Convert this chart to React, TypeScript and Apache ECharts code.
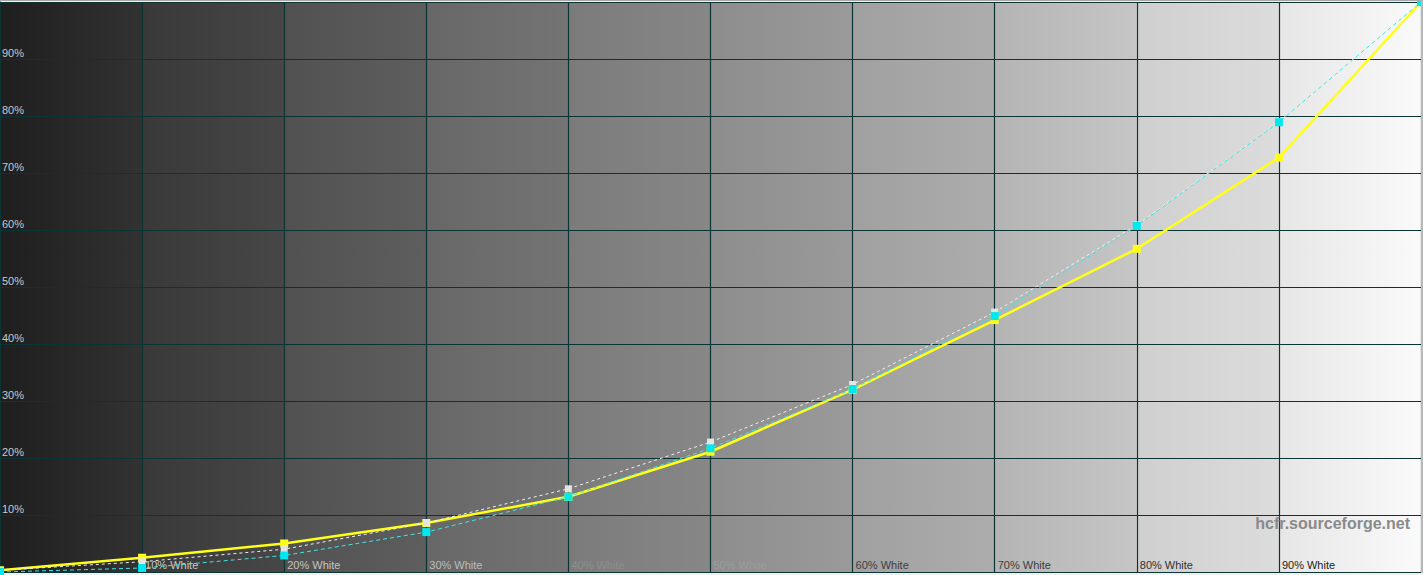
import React, { useEffect, useRef } from "react";
import * as echarts from "echarts";

// Stimulus levels (% white)
const levels = [0, 10, 20, 30, 40, 50, 60, 70, 80, 90, 100];
// Measured luminance (%)
const measured = [0.3, 2.5, 5.0, 8.6, 13.2, 21.1, 32.0, 44.2, 56.7, 72.7, 100];
// Reference curve (cyan, %)
const reference = [0.0, 0.7, 2.9, 7.0, 13.2, 21.7, 32.1, 44.9, 60.7, 78.9, 100];
// Second reference curve (white, %)
const reference2 = [0.3, 1.8, 4.0, 8.6, 14.6, 22.8, 32.9, 45.6, 60.9, 79.0, 100];

// Background gray columns
const columns = [
  [0, 10], [10, 20], [20, 30], [30, 40], [40, 50],
  [50, 60], [60, 70], [70, 80], [80, 90], [90, 100],
];
const columnStart = ["#1e1e1e", "#393939", "#515151", "#676767", "#7b7b7b", "#8d8d8d", "#a0a0a0", "#b4b4b4", "#cfcfcf", "#e6e6e6"];
const columnEnd = ["#323232", "#474747", "#5e5e5e", "#747474", "#878787", "#9a9a9a", "#adadad", "#c6c6c6", "#dcdcdc", "#fafafa"];

// X tick label colours (per level)
const xLabelColors: Record<number, string> = {
  10: "#c8c8c8", 20: "#c4c4c4", 30: "#bcbcbc", 40: "#8e8e8e", 50: "#9c9c9c",
  60: "#404040", 70: "#3c3c3c", 80: "#303030", 90: "#222222",
};

export default function App() {
  const ref = useRef<HTMLDivElement>(null);
  useEffect(() => {
    if (!ref.current) return;
    const chart = echarts.init(ref.current, null, { renderer: "svg" });
    const font = "'Liberation Sans', Arial, sans-serif";
    const grid = "#0c3434";
    chart.setOption({
      animation: false,
      backgroundColor: "#f0f0f0",
      grid: { left: 0, right: 2, top: 2, bottom: 3, outerBoundsMode: "none", containLabel: false },
      xAxis: {
        type: "value",
        min: 0,
        max: 100,
        interval: 10,
        z: 1,
        axisLine: { show: true, lineStyle: { color: grid, width: 1 } },
        axisTick: { show: false },
        splitLine: { show: true, lineStyle: { color: grid, width: 1.2 } },
        axisLabel: {
          inside: true,
          margin: 2,
          align: "left",
          verticalAlign: "bottom",
          padding: [0, 0, 0, 3],
          fontFamily: font,
          fontSize: 11,
          color: (v: number) => xLabelColors[v] || "#888",
          formatter: (v: number) => (v > 0 && v < 100 ? `${v}% White` : ""),
        },
      },
      yAxis: {
        type: "value",
        min: 0,
        max: 100,
        interval: 10,
        z: 1,
        axisLine: { show: true, lineStyle: { color: grid, width: 1 } },
        axisTick: { show: false },
        splitLine: { show: true, lineStyle: { color: grid, width: 1.2 } },
        axisLabel: {
          inside: true,
          margin: 2,
          align: "left",
          verticalAlign: "bottom",
          padding: [0, 0, 1, 0],
          fontFamily: font,
          fontSize: 11,
          color: "#c8c8c8",
          formatter: (v: number) => (v > 0 && v < 100 ? `${v}%` : ""),
        },
      },
      series: [
        {
          type: "custom",
          z: 0,
          silent: true,
          data: columns,
          renderItem: (params: any, api: any) => {
            const idx = params.dataIndex;
            const p0 = api.coord([api.value(0), 100]);
            const p1 = api.coord([api.value(1), 0]);
            return {
              type: "rect",
              shape: { x: p0[0], y: p0[1], width: p1[0] - p0[0], height: p1[1] - p0[1] },
              style: {
                fill: new echarts.graphic.LinearGradient(0, 0, 1, 0, [
                  { offset: 0, color: columnStart[idx] },
                  { offset: 1, color: columnEnd[idx] },
                ]),
              },
            };
          },
        },
        {
          type: "line",
          z: 3,
          data: levels.map((x, i) => [x, measured[i]]),
          symbol: "rect",
          symbolSize: 8,
          lineStyle: { color: "#ffff1a", width: 2.5 },
          itemStyle: { color: "#ffff1a" },
        },
        {
          type: "line",
          z: 4,
          data: levels.map((x, i) => [x, reference2[i]]),
          symbol: "rect",
          symbolSize: 7,
          lineStyle: { color: "#f0f0f0", width: 1, type: [3, 3] },
          itemStyle: { color: "#e4e4e4" },
        },
        {
          type: "line",
          z: 5,
          data: levels.map((x, i) => [x, reference[i]]),
          symbol: "rect",
          symbolSize: 8,
          lineStyle: { color: "#3ee6e6", width: 1, type: [4, 3] },
          itemStyle: { color: "#00e8f0" },
        },
      ],
      graphic: [
        {
          type: "text",
          right: 13,
          top: 515,
          z: 10,
          style: {
            text: "hcfr.sourceforge.net",
            fill: "#8a8a8a",
            font: `bold 16px ${font}`,
          },
        },
        {
          type: "rect",
          left: 0,
          top: 0,
          z: 10,
          shape: { width: 1423, height: 1 },
          style: { fill: "#a8a8a8" },
        },
        {
          type: "rect",
          right: 0,
          top: 0,
          z: 10,
          shape: { width: 2, height: 573 },
          style: { fill: "#b8b8b8" },
        },
      ],
    });
    return () => chart.dispose();
  }, []);
  return (
    <div
      ref={ref}
      style={{ position: "absolute", left: 0, top: 0, width: 1423, height: 575 }}
    />
  );
}
